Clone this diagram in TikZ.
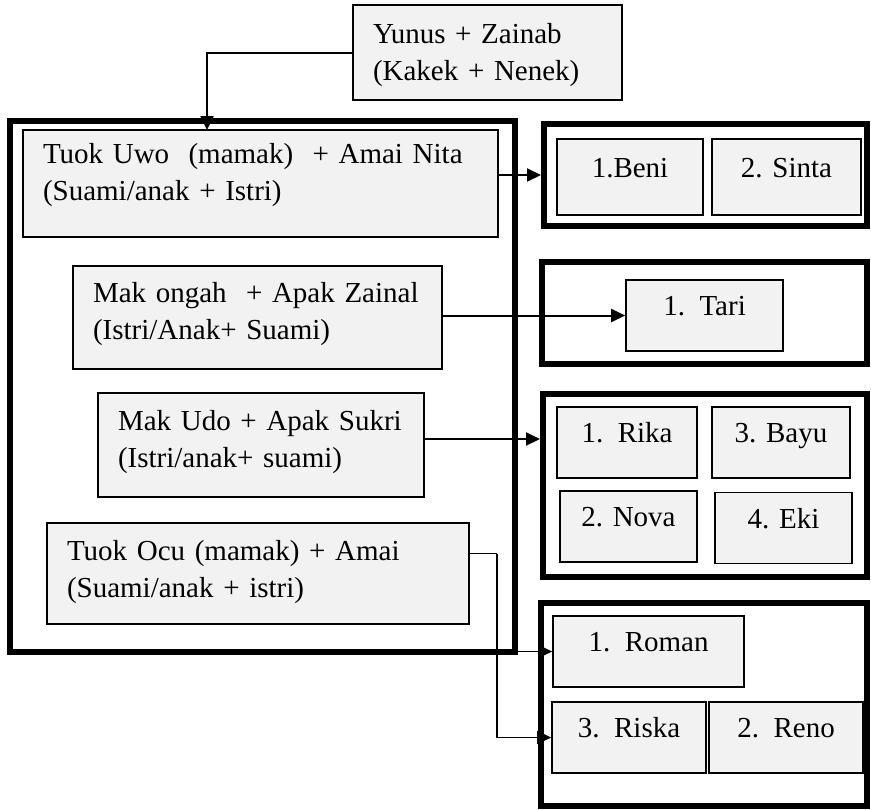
\documentclass[tikz,border=0pt]{standalone}
\usepackage{fontspec}
\setmainfont{Liberation Serif}
\usetikzlibrary{arrows.meta}

\begin{document}
\begin{tikzpicture}[x=0.5pt, y=-0.5pt, font=\fontsize{14.5}{18.75}\selectfont, >={Triangle[length=7pt, width=6.5pt]},
	kotak/.style={draw, fill=gray!10, line width=0.85pt, anchor=north west, outer sep=0pt, inner xsep=10pt, inner ysep=0pt, align=left},
	anak/.style={draw, fill=gray!10, line width=0.85pt, inner sep=0pt, text height=17.75pt, text depth=17.75pt},
	bingkai/.style={draw, line width=3pt, inner sep=0pt},
	panah/.style={->, line width=1pt}]
	\useasboundingbox (0,0) rectangle (871,809);
	
	\path 
		(262.5,386.5) coordinate (K)
		(705.5,175) coordinate (F1)
		(704.5,313) coordinate (F2)
		(705,485.5) coordinate (F3)
		(704,704) coordinate (F4)
	;
	
	% bingkai keluarga
	\node[bingkai, line width=3.2pt, minimum width=252.5pt, minimum height=265.5pt] (keluarga) at (K) {};
	\node[bingkai, minimum width=161.5pt, minimum height=51pt] (f1) at (F1) {};
	\node[bingkai, minimum width=162.5pt, minimum height=51pt] (f2) at (F2) {};
	\node[bingkai, minimum width=162pt, minimum height=91.5pt] (f3) at (F3) {};
	\node[bingkai, minimum width=163pt, minimum height=101.5pt] (f4) at (F4) {};
	
	% orang tua
	\node[kotak, text width=114.5pt, text height=19pt, text depth=28.5pt] (yunus) at (353,5) {Yunus + Zainab\\(Kakek + Nenek)};
	\node[kotak, text width=217.5pt, text height=16.5pt, text depth=37pt] (uwo) at (23,130) {Tuok Uwo\ \ (mamak)\ \ + Amai Nita\\(Suami/anak + Istri)};
	\node[kotak, text width=164.5pt, text height=18pt, text depth=33.5pt] (ongah) at (73,266) {Mak ongah\ \ + Apak Zainal\\(Istri/Anak+ Suami)};
	\node[kotak, text width=143pt, text height=18.5pt, text depth=33.5pt] (udo) at (98,393) {Mak Udo + Apak Sukri\\(Istri/anak+ suami)};
	\node[kotak, text width=191pt, text height=18.5pt, text depth=32pt] (ocu) at (47,523) {Tuok Ocu (mamak) + Amai\\(Suami/anak + istri)};
	
	% anak-anak
	\node[anak, minimum width=73pt, text height=19pt, text depth=19pt] (beni) at (630,177) {1.Beni};
	\node[anak, minimum width=74.5pt, text height=19pt, text depth=19pt] (sinta) at (786.5,177) {2. Sinta};
	\node[anak, minimum width=78.5pt] (tari) at (704.5,315.5) {1.\ \ Tari};
	\node[anak, minimum width=70pt] (rika) at (627,442.5) {1.\ \ Rika};
	\node[anak, minimum width=69pt] (bayu) at (781,442.5) {3. Bayu};
	\node[anak, minimum width=68.5pt] (nova) at (628.5,526.5) {2. Nova};
	\node[anak, minimum width=68.5pt] (eki) at (783.5,528) {4. Eki};
	\node[anak, minimum width=95.5pt] (roman) at (648.5,651.5) {1.\ \ Roman};
	\node[anak, minimum width=77pt] (riska) at (629,737.5) {3.\ \ Riska};
	\node[anak, minimum width=77pt] (reno) at (786,737.5) {2.\ \ Reno};
	
	% garis
	\draw[panah] (yunus.west) -| ([xshift=-26.75pt]uwo.north);
	\draw[panah] (uwo.east |- f1.west) -- (f1.west);
	\draw[panah] (ongah.east |- tari.west) -- (tari.west);
	\draw[panah] ([yshift=3pt]udo.east) -- ([yshift=3pt]udo.east -| f3.west);
	\draw[line width=0.8pt] ([yshift=10pt]ocu.east) -- ++(14pt,0) coordinate (cabang);
	\draw[panah, line width=0.8pt] (cabang) |- (riska.west);
	\draw[panah, line width=0.8pt] (cabang |- roman.west) -- (roman.west);
	
\end{tikzpicture}
\end{document}
